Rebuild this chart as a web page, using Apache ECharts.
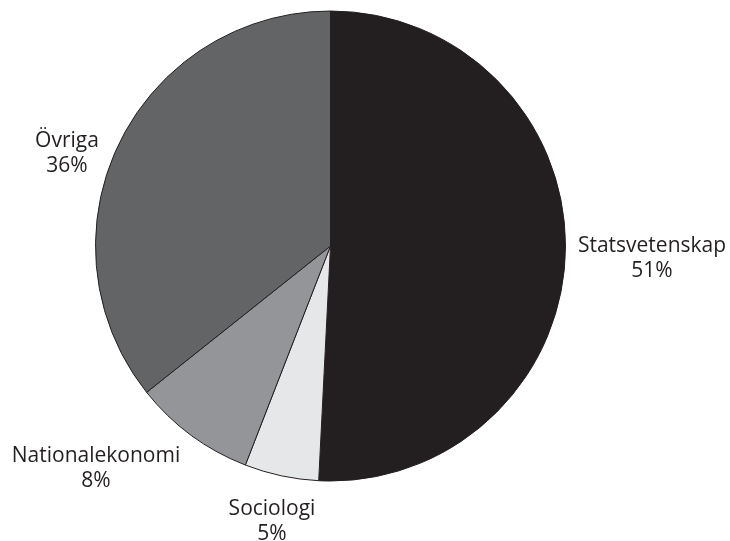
<!DOCTYPE html>
<html>
<head>
<meta charset="utf-8">
<style>
html,body{margin:0;padding:0;background:#fff;}
#main{width:730px;height:541px;}
</style>
<script src="https://cdn.jsdelivr.net/npm/echarts@6/dist/echarts.min.js"></script>
</head>
<body>
<div id="main"></div>
<script>
var categories = ['Statsvetenskap', 'Sociologi', 'Nationalekonomi', 'Övriga'];
var values = [50.8, 5.1, 8.4, 35.7];
var percentLabels = ['51%', '5%', '8%', '36%'];
var colors = ['#231f20', '#e6e7e8', '#939598', '#636466'];

// label anchor positions (layout only)
var labelPos = [[652, 259], [272, 522], [96, 469], [67, 154]];

var chart = echarts.init(document.getElementById('main'), null, {renderer: 'canvas'});
chart.setOption({
  animation: false,
  series: [{
    type: 'pie',
    center: [330.5, 246],
    radius: 235,
    startAngle: 90,
    clockwise: true,
    silent: true,
    data: categories.map(function (c, i) {
      return {name: c, value: values[i], itemStyle: {color: colors[i]}};
    }),
    itemStyle: {borderColor: '#231f20', borderWidth: 1},
    label: {
      show: true,
      position: 'outside',
      formatter: function (p) { return p.name + '\n' + percentLabels[p.dataIndex]; },
      fontFamily: 'Open Sans',
      fontSize: 21,
      lineHeight: 25,
      color: '#231f20',
      align: 'center',
      overflow: 'none',
      width: 220
    },
    labelLine: {show: false},
    labelLayout: function (p) {
      var pos = labelPos[p.dataIndex];
      return {x: pos[0], y: pos[1], align: 'center', verticalAlign: 'middle'};
    }
  }]
});
</script>
</body>
</html>
